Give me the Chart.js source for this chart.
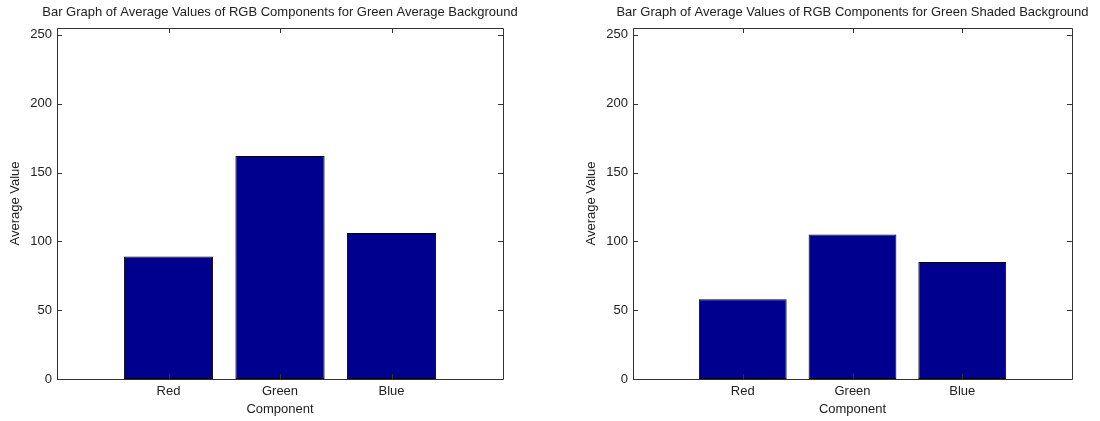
<!DOCTYPE html>
<html>
<head>
<meta charset="utf-8">
<script src="https://cdn.jsdelivr.net/npm/chart.js@4"></script>
<style>
  html, body { margin: 0; padding: 0; background: #fff; overflow: hidden; width: 1100px; height: 421px; }
  .panel { position: absolute; top: 0; height: 421px; }
</style>
</head>
<body>
<div class="panel" style="left:0;width:560px"><canvas id="chartAvg" width="560" height="421"></canvas></div>
<div class="panel" style="left:576px;width:553px"><canvas id="chartShaded" width="553" height="421"></canvas></div>
<script>
// --- dane ---
const components = ['Red', 'Green', 'Blue'];
const avgBackground = [89, 162, 106];
const shadedBackground = [58, 105, 85];
const yTicks = [0, 50, 100, 150, 200, 250];
const xTicks = [1, 2, 3];

const titleAvg = 'Bar Graph of Average Values of RGB Components for Green Average Background';
const titleShaded = 'Bar Graph of Average Values of RGB Components for Green Shaded Background';

// --- styl ---
const FONT = 'Arial, "Liberation Sans", Helvetica, sans-serif';
const TEXT = '#222';
const AXIS = '#333';
const BAR = '#00008f';
const TICK_LEN = 5;
const Y_AXIS_W = 57;

// ramka i znaczniki do środka, jak w MATLAB-ie
const matlabBox = {
  id: 'matlabBox',
  afterDatasetsDraw(chart) {
    const { ctx, chartArea: a, scales: { x, y } } = chart;
    ctx.save();
    ctx.strokeStyle = AXIS;
    ctx.lineWidth = 1;
    ctx.beginPath();
    y.ticks.forEach(t => {
      const py = Math.round(y.getPixelForValue(t.value)) + 0.5;
      ctx.moveTo(a.left, py); ctx.lineTo(a.left + TICK_LEN, py);
      ctx.moveTo(a.right, py); ctx.lineTo(a.right - TICK_LEN, py);
    });
    x.ticks.forEach(t => {
      const px = Math.round(x.getPixelForValue(t.value)) + 0.5;
      ctx.moveTo(px, a.top); ctx.lineTo(px, a.top + TICK_LEN);
      ctx.moveTo(px, a.bottom); ctx.lineTo(px, a.bottom - TICK_LEN);
    });
    ctx.rect(Math.round(a.left) + 0.5, Math.round(a.top) + 0.5,
             Math.round(a.right - a.left), Math.round(a.bottom - a.top));
    ctx.stroke();
    ctx.restore();
  }
};

function makeChart(id, title, values) {
  return new Chart(document.getElementById(id), {
    type: 'bar',
    data: {
      datasets: [{
        data: values.map((v, i) => ({ x: xTicks[i], y: v })),
        backgroundColor: BAR,
        borderColor: '#000',
        borderWidth: 1,
        borderSkipped: false,
        barPercentage: 0.8,
        categoryPercentage: 1,
      }],
    },
    options: {
      responsive: false,
      animation: false,
      layout: { padding: { left: 0, right: 0, top: 0, bottom: 2 } },
      scales: {
        x: {
          type: 'linear',
          min: 0,
          max: 4,
          offset: false,
          grid: { display: false, drawTicks: false },
          border: { display: false },
          afterBuildTicks: s => { s.ticks = xTicks.map(v => ({ value: v })); },
          afterFit: s => { s.height = 40; },
          ticks: {
            autoSkip: false,
            maxRotation: 0,
            padding: 5,
            color: TEXT,
            font: { family: FONT, size: 13 },
            callback: v => components[v - 1],
          },
          title: {
            display: true,
            text: 'Component',
            color: TEXT,
            padding: { top: 0, bottom: 2 },
            font: { family: FONT, size: 13 },
          },
        },
        y: {
          min: 0,
          max: 255,
          grid: { display: false, drawTicks: false },
          border: { display: false },
          afterBuildTicks: s => { s.ticks = yTicks.map(v => ({ value: v })); },
          afterFit: s => { s.width = Y_AXIS_W; },
          ticks: {
            padding: 5,
            color: TEXT,
            font: { family: FONT, size: 13 },
          },
          title: {
            display: true,
            text: 'Average Value',
            color: TEXT,
            padding: { top: 8, bottom: 0 },
            font: { family: FONT, size: 13 },
          },
        },
        // pusta oś po prawej, żeby tytuł był wyśrodkowany nad wykresem
        yRight: {
          position: 'right',
          display: true,
          grid: { display: false, drawTicks: false },
          border: { display: false },
          ticks: { display: false },
          afterFit: s => { s.width = Y_AXIS_W; },
        },
      },
      plugins: {
        legend: { display: false },
        tooltip: { enabled: false },
        title: {
          display: true,
          text: title,
          color: TEXT,
          padding: { top: 4.9, bottom: 7.5 },
          font: { family: FONT, size: 13, weight: 'normal' },
        },
      },
    },
    plugins: [matlabBox],
  });
}

makeChart('chartAvg', titleAvg, avgBackground);
makeChart('chartShaded', titleShaded, shadedBackground);
</script>
</body>
</html>
